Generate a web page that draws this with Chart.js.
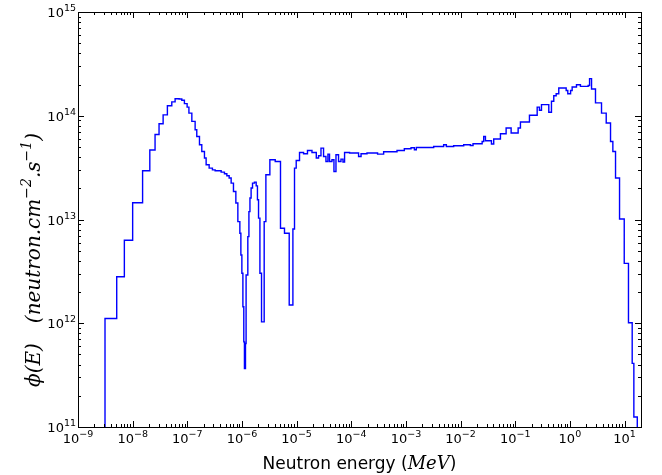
<!DOCTYPE html>
<html>
<head>
<meta charset="utf-8">
<script src="https://cdn.jsdelivr.net/npm/chart.js@4.4.1/dist/chart.umd.min.js"></script>
<style>
    html, body { margin: 0; padding: 0; background: #ffffff; }
    #wrap { width: 662px; height: 475px; }
</style>
</head>
<body>
<div id="wrap"><canvas id="fluxChart"></canvas></div>
<script>
// group edges (MeV)
const energyEdges = [
    3.12e-9, 5.11e-9, 7.05e-9, 1.0e-8, 1.52e-8, 2.06e-8, 2.57e-8, 3.04e-8, 3.61e-8, 4.32e-8,
    5.20e-8, 5.98e-8, 7.08e-8, 7.93e-8, 8.85e-8, 9.92e-8, 1.07e-7, 1.21e-7, 1.39e-7, 1.49e-7,
    1.67e-7, 1.84e-7, 2.06e-7, 2.21e-7, 2.51e-7, 2.88e-7, 3.23e-7, 4.16e-7, 4.78e-7, 5.29e-7,
    5.83e-7, 6.34e-7, 6.99e-7, 7.73e-7, 8.41e-7, 9.15e-7, 9.55e-7, 9.96e-7, 1.04e-6, 1.08e-6,
    1.11e-6, 1.16e-6, 1.19e-6, 1.28e-6, 1.34e-6, 1.40e-6, 1.47e-6, 1.56e-6, 1.69e-6, 1.82e-6,
    1.92e-6, 2.01e-6, 2.13e-6, 2.28e-6, 2.55e-6, 2.74e-6, 3.24e-6, 4.06e-6, 5.07e-6, 6.00e-6,
    7.32e-6, 8.55e-6, 9.15e-6, 9.83e-6, 1.13e-5, 1.34e-5, 1.58e-5, 1.91e-5, 2.29e-5, 2.52e-5,
    2.79e-5, 3.11e-5, 3.44e-5, 3.74e-5, 4.00e-5, 4.43e-5, 4.82e-5, 5.25e-5, 5.85e-5, 6.48e-5,
    7.05e-5, 7.54e-5, 9.31e-5, 1.36e-4, 1.51e-4, 1.94e-4, 3.03e-4, 3.91e-4, 6.87e-4, 9.35e-4,
    1.24e-3, 1.43e-3, 1.55e-3, 3.22e-3, 4.90e-3, 5.49e-3, 7.47e-3, 1.14e-2, 1.51e-2, 1.69e-2,
    2.48e-2, 2.65e-2, 2.85e-2, 3.67e-2, 4.04e-2, 5.36e-2, 6.81e-2, 8.41e-2, 0.113, 0.1245,
    0.182, 0.252, 0.277, 0.302, 0.411, 0.460, 0.507, 0.561, 0.626, 0.855,
    0.915, 1.03, 1.10, 1.32, 1.56, 2.16, 2.29, 2.49, 2.94, 3.79,
    4.62, 5.54, 6.11, 6.84, 8.10, 9.87, 11.8, 13.8, 14.8, 17.1
];

// flux in each group (neutron/cm2/s)
const fluxValues = [
    1.11e12, 2.81e12, 6.31e12, 1.45e13, 2.95e13, 4.67e13, 6.60e13, 8.38e13, 1.02e14, 1.25e14,
    1.36e14, 1.46e14, 1.45e14, 1.41e14, 1.31e14, 1.21e14, 1.06e14, 8.82e13, 7.33e13, 6.32e13,
    5.25e13, 4.53e13, 3.91e13, 3.37e13, 3.13e13, 3.01e13, 2.95e13, 2.86e13, 2.76e13, 2.64e13,
    2.51e13, 2.24e13, 1.86e13, 1.44e13, 9.54e12, 7.38e12, 4.55e12, 3.03e12, 1.44e12, 6.62e11,
    3.66e11, 6.39e11, 2.92e12, 6.84e12, 1.19e13, 1.61e13, 2.01e13, 2.24e13, 2.29e13, 2.11e13,
    1.55e13, 1.03e13, 3.03e12, 1.03e12, 9.54e12, 2.70e13, 3.76e13, 3.62e13, 8.24e12, 7.38e12,
    1.50e12, 8.11e12, 3.13e13, 3.71e13, 4.43e13, 4.30e13, 4.63e13, 4.43e13, 3.91e13, 4.11e13,
    4.88e13, 4.05e13, 3.62e13, 4.27e13, 3.62e13, 3.76e13, 2.90e13, 4.21e13, 3.62e13, 3.82e13,
    3.58e13, 4.43e13, 4.37e13, 4.05e13, 4.30e13, 4.37e13, 4.27e13, 4.50e13, 4.63e13, 4.81e13,
    4.91e13, 4.70e13, 4.95e13, 5.06e13, 5.25e13, 5.06e13, 5.14e13, 5.25e13, 5.17e13, 5.37e13,
    5.65e13, 6.32e13, 5.74e13, 5.34e13, 5.96e13, 6.71e13, 7.62e13, 6.81e13, 7.62e13, 8.70e13,
    1.01e14, 1.21e14, 1.13e14, 1.28e14, 1.08e14, 1.38e14, 1.56e14, 1.63e14, 1.85e14, 1.75e14,
    1.63e14, 1.75e14, 1.89e14, 1.99e14, 1.92e14, 1.96e14, 2.28e14, 1.81e14, 1.33e14, 1.06e14,
    8.51e13, 5.65e13, 4.53e13, 2.51e13, 1.01e13, 3.78e12, 1.01e12, 4.10e11, 1.25e11
];

// axis ranges and tick decades
const xMin = 1e-9, xMax = 20;
const yMin = 1e11, yMax = 1e15;
const xDecades = [-9, -8, -7, -6, -5, -4, -3, -2, -1, 0, 1];
const yDecades = [11, 12, 13, 14, 15];
const minorSubs = [2, 3, 4, 5, 6, 7, 8, 9];

// axis titles, pieces marked sup are superscripts
const xTitle = [{ t: 'Neutron energy (' }, { t: 'MeV', math: true }, { t: ')' }];
const yTitle = [
    { t: 'ϕ(E)' }, { gap: 20 }, { t: '(neutron.cm' }, { t: '−2', sup: true },
    { t: '.s' }, { t: '−1', sup: true }, { t: ')' }
];

const SANS = '"DejaVu Sans", sans-serif';
const MATH = '"DejaVu Serif", serif';

function isDecade(v) {
    const l = Math.log10(v);
    return Math.abs(l - Math.round(l)) < 1e-6;
}

function logTicks(decades, lo, hi) {
    const ticks = [];
    decades.forEach(e => {
        ticks.push({ value: Number('1e' + e) });
        minorSubs.forEach(s => ticks.push({ value: Number(s + 'e' + e) }));
    });
    return ticks.filter(t => t.value >= lo * 0.999 && t.value <= hi * 1.001);
}

// "10" with a raised exponent; align 'center' (x axis) or 'right' (y axis)
function drawPower(ctx, exp, x, baseline, align) {
    const sup = String(exp).replace('-', '−');
    ctx.font = '13px ' + SANS;
    const wb = ctx.measureText('10').width;
    ctx.font = '9.5px ' + SANS;
    const ws = ctx.measureText(sup).width;
    const x0 = align === 'center' ? x - (wb + ws) / 2 : x - (wb + ws);
    ctx.font = '13px ' + SANS;
    ctx.fillText('10', x0, baseline);
    ctx.font = '9.5px ' + SANS;
    ctx.fillText(sup, x0 + wb, baseline - 6);
}

// step outline: rise from below the axis, hold each group level, drop at the end
const floor = 1e10;
const points = [{ x: energyEdges[0], y: floor }];
fluxValues.forEach((f, i) => points.push({ x: energyEdges[i], y: f }));
points.push({ x: energyEdges[energyEdges.length - 1], y: floor });

// matplotlib-like frame: inward ticks on four sides, power labels, titles
const axesFrame = {
    id: 'axesFrame',
    afterDatasetsDraw(chart) {
        const { ctx, chartArea: a, scales: { x, y } } = chart;
        ctx.save();
        ctx.strokeStyle = '#000000';
        ctx.lineWidth = 1;
        ctx.beginPath();
        x.ticks.forEach(t => {
            const px = Math.round(x.getPixelForValue(t.value)) + 0.5;
            const len = isDecade(t.value) ? 6 : 3;
            ctx.moveTo(px, a.bottom); ctx.lineTo(px, a.bottom - len);
            ctx.moveTo(px, a.top); ctx.lineTo(px, a.top + len);
        });
        y.ticks.forEach(t => {
            const py = Math.round(y.getPixelForValue(t.value)) + 0.5;
            const len = isDecade(t.value) ? 6 : 3;
            ctx.moveTo(a.left, py); ctx.lineTo(a.left + len, py);
            ctx.moveTo(a.right, py); ctx.lineTo(a.right - len, py);
        });
        ctx.stroke();
        ctx.strokeRect(Math.round(a.left) + 0.5, Math.round(a.top) + 0.5,
            Math.round(a.right - a.left), Math.round(a.bottom - a.top));

        // tick labels
        ctx.fillStyle = '#000000';
        ctx.textBaseline = 'alphabetic';
        ctx.textAlign = 'left';
        x.ticks.filter(t => isDecade(t.value)).forEach(t => {
            drawPower(ctx, Math.round(Math.log10(t.value)), x.getPixelForValue(t.value), a.bottom + 16, 'center');
        });
        y.ticks.filter(t => isDecade(t.value)).forEach(t => {
            drawPower(ctx, Math.round(Math.log10(t.value)), a.left - 2, y.getPixelForValue(t.value) + 5, 'right');
        });

        // x title
        const xFont = p => p.math ? 'italic 18px ' + MATH : '17px ' + SANS;
        let total = 0;
        xTitle.forEach(p => { ctx.font = xFont(p); total += ctx.measureText(p.t).width; });
        let cx = (a.left + a.right) / 2 - total / 2;
        xTitle.forEach(p => {
            ctx.font = xFont(p);
            ctx.fillText(p.t, cx, 469);
            cx += ctx.measureText(p.t).width;
        });

        // y title, rotated, reading upwards
        ctx.translate(40, 387);
        ctx.rotate(-Math.PI / 2);
        let cy = 0;
        yTitle.forEach(p => {
            if (p.gap) { cy += p.gap; return; }
            ctx.font = p.sup ? 'italic 14px ' + MATH : 'italic 20px ' + MATH;
            ctx.fillText(p.t, cy, p.sup ? -9 : 0);
            cy += ctx.measureText(p.t).width;
        });
        ctx.restore();
    }
};

const ctx = document.getElementById('fluxChart').getContext('2d');

new Chart(ctx, {
    type: 'line',
    data: {
        datasets: [{
            data: points,
            borderColor: '#0000ff',
            borderWidth: 1.4,
            stepped: true,
            pointRadius: 0,
            fill: false
        }]
    },
    options: {
        responsive: true,
        maintainAspectRatio: false,
        animation: false,
        parsing: false,
        layout: { padding: { top: 12, right: 21, bottom: 0, left: 0 } },
        plugins: {
            legend: { display: false },
            tooltip: { enabled: false }
        },
        scales: {
            x: {
                type: 'logarithmic',
                min: xMin,
                max: xMax,
                afterBuildTicks: scale => { scale.ticks = logTicks(xDecades, xMin, xMax); },
                afterFit: scale => { scale.height = 48; },
                grid: { display: false },
                border: { display: false },
                ticks: { display: false, autoSkip: false }
            },
            y: {
                type: 'logarithmic',
                min: yMin,
                max: yMax,
                afterBuildTicks: scale => { scale.ticks = logTicks(yDecades, yMin, yMax); },
                afterFit: scale => { scale.width = 78; },
                grid: { display: false },
                border: { display: false },
                ticks: { display: false, autoSkip: false }
            }
        }
    },
    plugins: [axesFrame]
});
</script>
</body>
</html>
